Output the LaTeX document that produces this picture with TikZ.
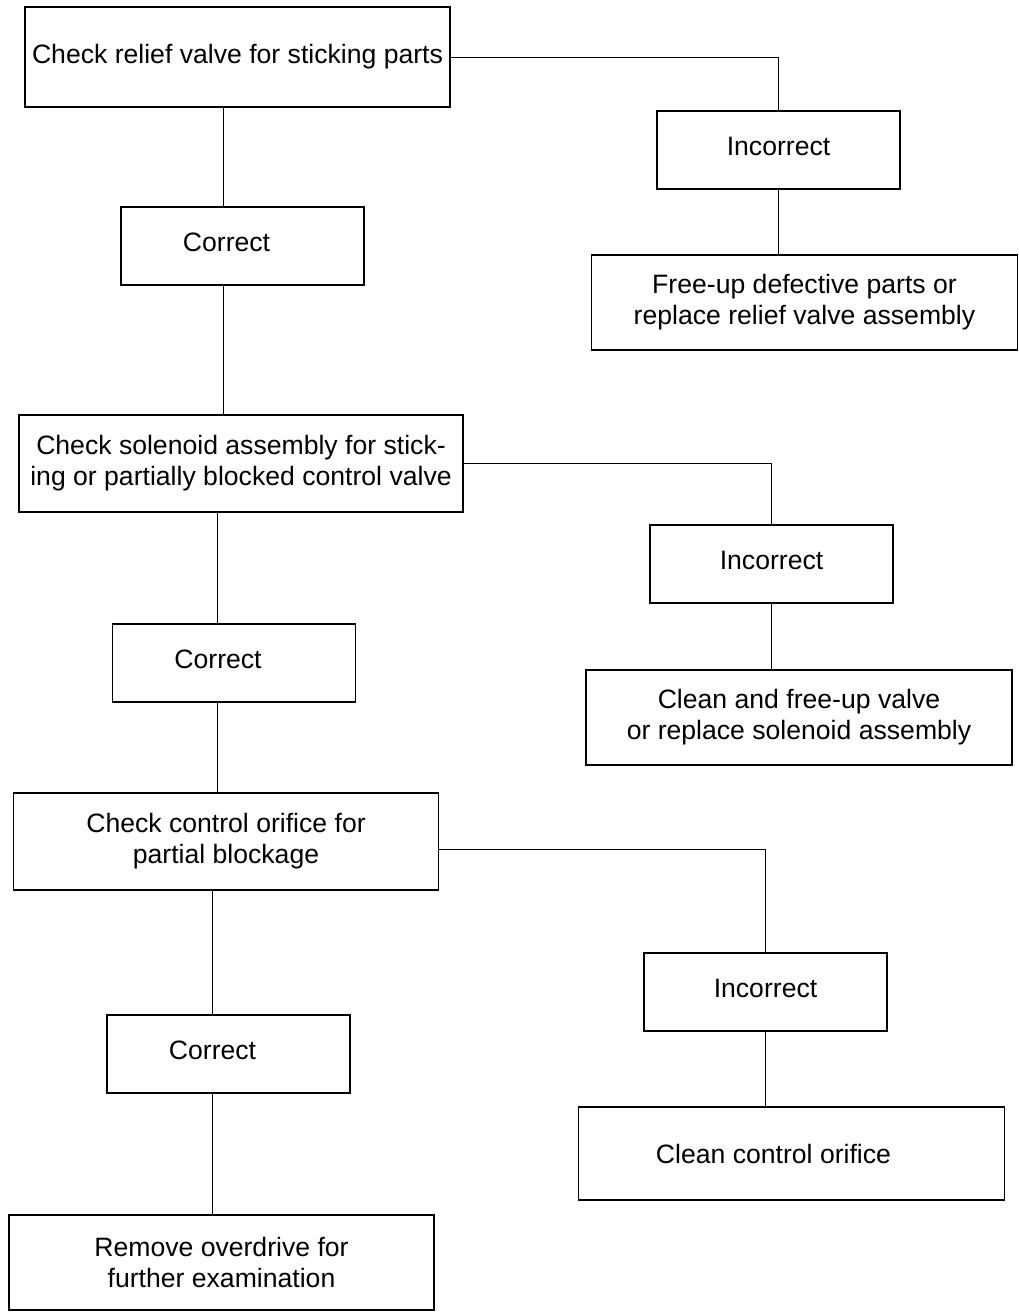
\documentclass[tikz,border=0pt]{standalone}
\usepackage{fontspec}
\setmainfont{Liberation Sans}

\begin{document}
\begin{tikzpicture}[
  x=0.5pt, y=-0.5pt,
  chk/.style={rectangle, draw=black, line width=0.8pt, minimum width=212.5pt, minimum height=48.5pt, align=center, font=\fontsize{13.3}{15.5}\selectfont},
  res/.style={rectangle, draw=black, line width=0.8pt, minimum width=121.5pt, minimum height=39pt, align=center, text depth=4pt, font=\fontsize{13.3}{15.5}\selectfont},
  ok/.style={res, execute at end node={\hspace*{16pt}}},
  fix/.style={rectangle, draw=black, line width=0.8pt, minimum width=213pt, minimum height=47.5pt, align=center, font=\fontsize{13.3}{15.5}\selectfont},
  link/.style={draw=black, line width=0.5pt}
]
\useasboundingbox (0,0) rectangle (1019,1314);

% left column: checks and correct results
\node[chk, minimum height=50pt] (c1) at (237.5,57) {Check relief valve for sticking parts};
\node[ok] (ok1) at (242.5,246) {Correct};
\node[chk, minimum width=222pt] (c2) at (241,463.5) {Check solenoid assembly for stick-\\ing or partially blocked control valve};
\node[ok] (ok2) at (234,663) {Correct};
\node[chk] (c3) at (226,841.5) {Check control orifice for\\partial blockage};
\node[ok] (ok3) at (228.5,1054) {Correct};
\node[chk, minimum height=47.5pt] (c4) at (221.5,1262.5) {Remove overdrive for\\further examination};

% right column: incorrect results and remedies
\node[res] (i1) at (778.5,150) {Incorrect};
\node[fix] (f1) at (804.5,302.5) {Free-up defective parts or\\replace relief valve assembly};
\node[res] (i2) at (771.5,564) {Incorrect};
\node[fix] (f2) at (799,717.5) {Clean and free-up valve\\or replace solenoid assembly};
\node[res] (i3) at (765.5,992) {Incorrect};
\node[fix, minimum height=46.5pt] (f3) at (791.5,1153.5) {Clean control orifice\hspace*{18pt}};

% spines
\coordinate (sA) at (223,0);
\coordinate (sB) at (217,0);
\coordinate (sC) at (212,0);

\draw[link] (c1.south -| sA) -- (ok1.north -| sA);
\draw[link] (ok1.south -| sA) -- (c2.north -| sA);
\draw[link] (c2.south -| sB) -- (ok2.north -| sB);
\draw[link] (ok2.south -| sB) -- (c3.north -| sB);
\draw[link] (c3.south -| sC) -- (ok3.north -| sC);
\draw[link] (ok3.south -| sC) -- (c4.north -| sC);

\draw[link] (c1.east) -| (i1.north);
\draw[link] (i1.south) -- (i1.south |- f1.north);
\draw[link] (c2.east) -| (i2.north);
\draw[link] (i2.south) -- (i2.south |- f2.north);
\draw[link] ([yshift=-4pt]c3.east) -| (i3.north);
\draw[link] (i3.south) -- (i3.south |- f3.north);
\end{tikzpicture}
\end{document}
